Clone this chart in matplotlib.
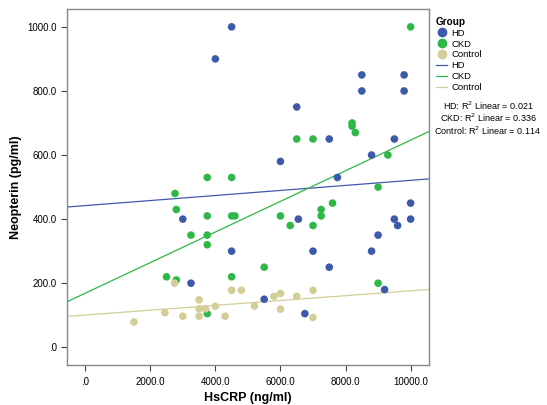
import numpy as np
import matplotlib.pyplot as plt
from matplotlib.lines import Line2D

plt.rcParams['font.family'] = ['Liberation Sans', 'DejaVu Sans']

# datos (HsCRP ng/ml, Neopterin pg/ml)
hd_x = [4500, 4000, 8500, 9800, 8500, 9800, 6500, 7500, 9500, 6000, 8800, 7750,
        3000, 4500, 3250, 10000, 6550, 9500, 9600, 10000, 9000, 7000, 8800, 7500,
        9200, 5500, 6750]
hd_y = [1000, 900, 850, 850, 800, 800, 750, 650, 650, 580, 600, 530,
        400, 300, 200, 450, 400, 400, 380, 400, 350, 300, 300, 250,
        180, 150, 105]

ckd_x = [3750, 4500, 2760, 10000, 8200, 8200, 8300, 6500, 7000, 9300, 9000, 2800,
         3750, 4500, 4600, 3250, 3750, 3750, 2500, 2800, 4500, 3750, 7600, 7250,
         7250, 6000, 6300, 7000, 5500, 9000]
ckd_y = [530, 530, 480, 1000, 700, 690, 670, 650, 650, 600, 500, 430,
         410, 410, 410, 350, 350, 320, 220, 210, 220, 105, 450, 430,
         410, 410, 380, 380, 250, 200]

control_x = [2750, 4500, 4800, 3500, 3500, 3700, 4000, 2450, 3000, 3500, 4300, 1500,
             5200, 7000, 6000, 5800, 6500, 6000, 7000]
control_y = [200, 178, 178, 148, 120, 120, 128, 108, 97, 97, 97, 79,
             129, 178, 168, 159, 159, 119, 93]

grupos = ['HD', 'CKD', 'Control']
colores = ['#3E58AC', '#2EB848', '#D3CE97']
r2_texto = ['0.021', '0.336', '0.114']  # como aparece en la figura
datos = [(hd_x, hd_y), (ckd_x, ckd_y), (control_x, control_y)]

xlim = (-550, 10560)
ylim = (-55, 1056)

fig = plt.figure(figsize=(5.47, 4.05), dpi=100)
ax = fig.add_axes([0.123, 0.099, 0.661, 0.879])

# puntos y rectas de ajuste lineal
for (gx, gy), c in zip(datos, colores):
    gx = np.array(gx, dtype=float)
    gy = np.array(gy, dtype=float)
    ax.scatter(gx, gy, s=30, color=c, edgecolors='none', zorder=3)
    m, b = np.polyfit(gx, gy, 1)
    xx = np.array(xlim)
    ax.plot(xx, m * xx + b, color=c, lw=0.9, zorder=2)

ax.set_xlim(xlim)
ax.set_ylim(ylim)
ax.set_xticks([0, 2000, 4000, 6000, 8000, 10000])
ax.set_xticklabels(['.0', '2000.0', '4000.0', '6000.0', '8000.0', '10000.0'], fontsize=7)
ax.set_yticks([0, 200, 400, 600, 800, 1000])
ax.set_yticklabels(['.0', '200.0', '400.0', '600.0', '800.0', '1000.0'], fontsize=7)
ax.tick_params(length=4, width=0.8, color='#444444')
ax.tick_params(axis='x', pad=5)
for sp in ax.spines.values():
    sp.set_color('#888888')
    sp.set_linewidth(1.0)
ax.set_xlabel('HsCRP (ng/ml)', fontsize=9, fontweight='bold', labelpad=3)
ax.set_ylabel('Neopterin (pg/ml)', fontsize=9, fontweight='bold')

# leyenda
handles = [Line2D([], [], marker='o', ls='none', color=c, markersize=6) for c in colores]
handles += [Line2D([], [], color=c, lw=0.9) for c in colores]
etiquetas = grupos + grupos
leg = fig.legend(handles, etiquetas, title='Group', loc='upper left',
                 bbox_to_anchor=(0.79, 0.968), frameon=False, fontsize=6.8,
                 title_fontsize=7.2, handlelength=1.2, handletextpad=0.4,
                 labelspacing=0.2, borderaxespad=0)
leg._legend_box.align = 'left'
leg.get_title().set_fontweight('bold')

ys = [0.738, 0.708, 0.678]
for g, v, y in zip(grupos, r2_texto, ys):
    fig.text(0.892, y, f'{g}: R$^2$ Linear = {v}', ha='center', va='center', fontsize=6.5)

fig.savefig('out.png', dpi=100)
